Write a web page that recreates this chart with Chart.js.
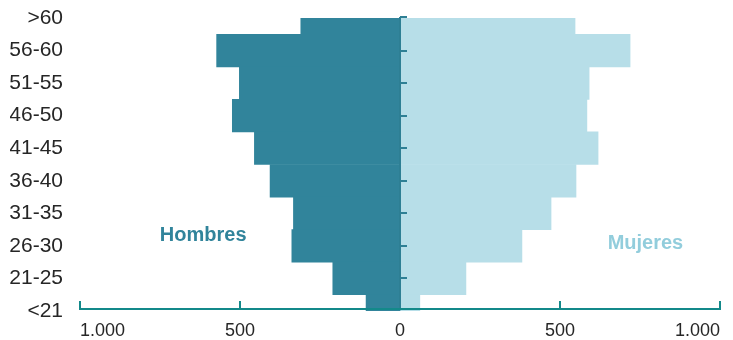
<!DOCTYPE html>
<html><head><meta charset="utf-8">
<script src="https://cdn.jsdelivr.net/npm/chart.js@4/dist/chart.umd.min.js"></script>
<style>html,body{margin:0;padding:0;background:#fff}#c{display:block}</style>
</head><body>
<canvas id="c" width="733" height="340"></canvas>
<script>
const ageGroups = ['>60','56-60','51-55','46-50','41-45','36-40','31-35','26-30','21-25','<21'];
const hombres = [310,573,502,524,455,406,333,338,210,106];
const mujeres = [547,719,591,584,619,550,472,381,206,62];
const xTickValues = [-1000,-500,0,500,1000];
const seriesNames = ['Hombres','Mujeres'];

const COL_H = '#31849B', COL_M = '#B7DEE8', COL_MTXT = '#92CDDC', COL_VAX = '#2E7F94', COL_HAX = '#13898A';
const FONT = "'Liberation Sans', Arial, sans-serif";

const axesPlugin = {
  id: 'axesPlugin',
  afterDatasetsDraw(chart) {
    const {ctx, chartArea: a, scales: {x, y}} = chart;
    ctx.save();
    const x0 = x.getPixelForValue(0);
    ctx.strokeStyle = COL_VAX; ctx.lineWidth = 2;
    ctx.beginPath(); ctx.moveTo(x0, a.top - 1); ctx.lineTo(x0, a.bottom - 2); ctx.stroke();
    for (let i = 0; i < ageGroups.length - 1; i++) {
      const py = Math.round(i === 0 ? a.top - 1 : y.getPixelForValue(i));
      ctx.beginPath(); ctx.moveTo(x0, py); ctx.lineTo(x0 + 7, py); ctx.stroke();
    }
    const yb = a.bottom - 2;
    ctx.strokeStyle = COL_HAX; ctx.lineWidth = 2;
    ctx.beginPath();
    ctx.moveTo(x.getPixelForValue(xTickValues[0]), yb);
    ctx.lineTo(x.getPixelForValue(xTickValues[xTickValues.length - 1]), yb);
    ctx.stroke();
    xTickValues.forEach(v => {
      if (v === 0) return;
      const px = x.getPixelForValue(v);
      ctx.beginPath(); ctx.moveTo(px, yb + 1); ctx.lineTo(px, yb - 8); ctx.stroke();
    });
    ctx.font = 'bold 20px ' + FONT;
    ctx.textAlign = 'center'; ctx.textBaseline = 'middle';
    ctx.fillStyle = COL_H;
    ctx.fillText(seriesNames[0], x.getPixelForValue(-615), y.getPixelForValue(6.68));
    ctx.fillStyle = COL_MTXT;
    ctx.fillText(seriesNames[1], x.getPixelForValue(767), y.getPixelForValue(6.93));
    ctx.restore();
  }
};

new Chart(document.getElementById('c'), {
  type: 'bar',
  data: {
    labels: ageGroups,
    datasets: [
      {label: seriesNames[0], data: hombres.map(v => -v), backgroundColor: COL_H, barPercentage: 1, categoryPercentage: 1, borderWidth: 0},
      {label: seriesNames[1], data: mujeres, backgroundColor: COL_M, barPercentage: 1, categoryPercentage: 1, borderWidth: 0}
    ]
  },
  options: {
    indexAxis: 'y',
    responsive: false,
    animation: false,
    devicePixelRatio: 1,
    layout: {padding: {left: 10, right: 13, top: 18, bottom: 0}},
    plugins: {legend: {display: false}, tooltip: {enabled: false}},
    scales: {
      x: {
        type: 'linear', min: -1000, max: 1000, stacked: true,
        grid: {display: false, drawTicks: false}, border: {display: false},
        afterBuildTicks(scale) { scale.ticks = xTickValues.map(v => ({value: v})); },
        afterFit(scale) { scale.height = 29; scale.paddingLeft = 0; scale.paddingRight = 0; },
        ticks: {
          align: 'inner', padding: 9, color: '#262626',
          font: {family: FONT, size: 18},
          callback: v => Math.abs(v).toLocaleString('de-DE')
        }
      },
      y: {
        type: 'category', stacked: true, offset: false,
        grid: {display: false, drawTicks: false}, border: {display: false},
        afterFit(scale) { scale.width = 70; scale.paddingTop = 0; scale.paddingBottom = 0; },
        ticks: {padding: 17, color: '#262626', font: {family: FONT, size: 21}}
      }
    }
  },
  plugins: [axesPlugin]
});
</script>
</body></html>
